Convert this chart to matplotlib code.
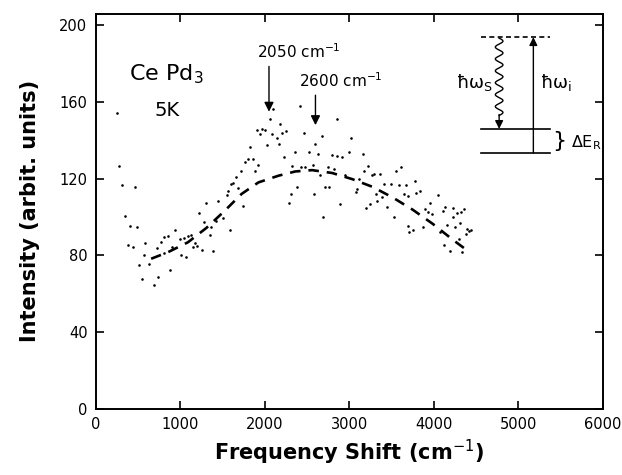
"""
Raman spectrum of CePd3 at 5 K: scattered intensity vs frequency shift,
with a smooth dashed guide and an energy level inset.
"""
import numpy as np
import matplotlib
matplotlib.use("Agg")
import matplotlib.pyplot as plt

shift = [246, 278, 310, 345, 377, 409, 437, 464, 488, 516, 548, 575, 587,
         635, 687, 722, 734, 774, 806, 813, 853, 877, 905, 933, 992, 1012,
         1044, 1071, 1091, 1123, 1151, 1171, 1202, 1222, 1258, 1282, 1306,
         1349, 1361, 1389, 1417, 1449, 1508, 1548, 1567, 1587, 1599, 1627,
         1655, 1687, 1718, 1738, 1766, 1798, 1825, 1857, 1885, 1905, 1925,
         1944, 1964, 2004, 2032, 2063, 2083, 2103, 2143, 2163, 2182, 2202,
         2222, 2254, 2290, 2313, 2321, 2361, 2377, 2420, 2432, 2461, 2480,
         2528, 2568, 2579, 2599, 2631, 2651, 2679, 2694, 2718, 2746, 2758,
         2790, 2817, 2857, 2857, 2889, 2909, 2949, 2996, 3016, 3075, 3095,
         3115, 3163, 3175, 3202, 3223, 3242, 3266, 3294, 3321, 3333, 3361,
         3393, 3417, 3452, 3496, 3532, 3552, 3591, 3611, 3651, 3671, 3691,
         3699, 3711, 3750, 3782, 3790, 3837, 3869, 3897, 3929, 3961, 3980,
         4048, 4071, 4115, 4127, 4135, 4159, 4187, 4226, 4226, 4254, 4274,
         4298, 4306, 4318, 4337, 4357, 4377, 4393, 4417, 4444]
intensity = [154.4, 126.8, 116.7, 100.4, 85.5, 95.4, 84.3, 115.8, 94.7, 75.3,
             67.9, 80.4, 86.6, 75.7, 64.6, 84.0, 68.7, 86.9, 81.2, 89.5, 90.0,
             72.6, 84.3, 93.3, 88.7, 80.5, 89.0, 79.1, 90.4, 90.7, 84.3, 86.4,
             85.2, 102.3, 83.1, 97.3, 107.5, 90.7, 94.7, 82.6, 98.2, 108.6,
             99.7, 111.5, 113.8, 93.3, 117.2, 117.9, 121.0, 115.2, 124.2,
             105.8, 128.5, 130.2, 136.3, 130.2, 124.2, 145.3, 127.3, 143.5,
             145.8, 145.3, 137.5, 151.0, 143.2, 156.2, 141.5, 138.0, 148.4,
             144.1, 131.1, 144.9, 107.4, 112.1, 126.8, 133.7, 115.8, 157.9,
             126.2, 144.1, 126.2, 134.0, 127.1, 112.1, 138.0, 132.8, 122.1,
             142.3, 100.3, 115.5, 126.2, 115.5, 132.5, 125.0, 132.0, 151.0,
             106.9, 131.6, 122.1, 133.7, 141.5, 112.9, 114.6, 119.8, 132.8,
             124.2, 104.8, 126.8, 106.9, 122.1, 122.4, 112.1, 108.6, 122.4,
             110.3, 117.2, 105.5, 117.2, 99.9, 123.8, 116.9, 125.9, 112.1,
             116.9, 95.6, 111.2, 92.1, 93.3, 118.6, 112.4, 113.4, 95.1, 104.3,
             102.5, 107.4, 101.7, 111.5, 92.1, 103.4, 85.7, 105.5, 95.9, 82.1,
             99.9, 104.8, 94.7, 102.0, 88.7, 96.8, 102.5, 81.7, 104.4, 91.3,
             93.9, 92.6, 93.3]

# dashed guide to the eye
guide_x = [655, 853, 1091, 1310, 1528, 1726, 1925, 2163, 2361, 2560, 2798,
           3036, 3274, 3512, 3750, 3988, 4226, 4425]
guide_y = [78.3, 81.7, 86.9, 94.4, 103.4, 112.1, 118.1, 121.6, 123.8, 124.5,
           123.0, 119.8, 115.8, 110.3, 103.9, 96.5, 88.2, 81.7]

# marked peaks
peak_pos = [2050, 2600]
peak_labels = ["2050 cm$^{-1}$", "2600 cm$^{-1}$"]

x_ticks = [0, 1000, 2000, 3000, 4000, 5000, 6000]
y_ticks = [0, 40, 80, 120, 160, 200]

plt.rcParams["font.family"] = ["DejaVu Sans"]

fig = plt.figure(figsize=(6.22, 4.75), dpi=100)
ax = fig.add_axes([0.154, 0.139, 0.815, 0.832])

ax.scatter(shift, intensity, s=3.5, color="black", linewidths=0)
ax.plot(guide_x, guide_y, color="black", lw=1.9, dashes=(4, 3))

ax.set_xlim(0, 6000)
ax.set_ylim(0, 206)
ax.set_xticks(x_ticks)
ax.set_yticks(y_ticks)
ax.tick_params(direction="in", length=6, width=1.2, top=True, right=True,
               labelsize=10.5, pad=6)
for sp in ax.spines.values():
    sp.set_linewidth(1.4)

ax.set_xlabel("Frequency Shift (cm$^{-1}$)", fontsize=15, fontweight="bold")
ax.set_ylabel("Intensity (arbit. units)", fontsize=15, fontweight="bold",
              labelpad=14)

# sample label
ax.text(390, 174.5, "Ce Pd$_3$", fontsize=16, va="center")
ax.text(690, 155.5, "5K", fontsize=14, va="center")

# peak arrows
ax.annotate("", xy=(peak_pos[0], 153.5), xytext=(peak_pos[0], 180),
            arrowprops=dict(arrowstyle="-|>", color="black", lw=1.0,
                            mutation_scale=14))
ax.text(2400, 186.5, peak_labels[0], fontsize=11, ha="center",
        va="center")
ax.annotate("", xy=(peak_pos[1], 146.5), xytext=(peak_pos[1], 165),
            arrowprops=dict(arrowstyle="-|>", color="black", lw=1.0,
                            mutation_scale=14))
ax.text(2900, 171, peak_labels[1], fontsize=11, ha="center",
        va="center")

# energy level inset
lvl_virtual, lvl_top, lvl_bot = 193.8, 146.0, 133.5
lx0, lx1 = 4560, 5380
ax.plot([lx0, lx1], [lvl_virtual, lvl_virtual], color="black", lw=1.2,
        dashes=(3, 2))
ax.plot([lx0, lx1], [lvl_top, lvl_top], color="black", lw=1.2)
ax.plot([lx0, lx1], [lvl_bot, lvl_bot], color="black", lw=1.2)

# incident photon: straight arrow up
ax.annotate("", xy=(5179, lvl_virtual), xytext=(5179, lvl_bot),
            arrowprops=dict(arrowstyle="-|>", color="black", lw=1.0,
                            mutation_scale=12, shrinkA=0, shrinkB=0))
ax.text(5260, 170, "ħω$_{\\mathrm{i}}$", fontsize=13, va="center")

# scattered photon: wavy arrow down
wy = np.linspace(lvl_virtual - 0.5, lvl_top + 7, 200)
wx = 4774 + 45 * np.sin((wy - wy[0]) / (wy[-1] - wy[0]) * 2 * np.pi * 6.5)
ax.plot(wx, wy, color="black", lw=1.0)
ax.annotate("", xy=(4774, lvl_top), xytext=(4774, lvl_top + 7.5),
            arrowprops=dict(arrowstyle="-|>", color="black", lw=1.0,
                            mutation_scale=12, shrinkA=0, shrinkB=0))
ax.text(4700, 170, "ħω$_{\\mathrm{S}}$", fontsize=13, va="center", ha="right")

# level splitting
ax.text(5400, (lvl_top + lvl_bot) / 2, "}", fontsize=16, va="center")
ax.text(5620, (lvl_top + lvl_bot) / 2 - 1, "ΔE$_{\\mathrm{R}}$", fontsize=11.5,
        va="center")

fig.savefig("out.png", dpi=100)
